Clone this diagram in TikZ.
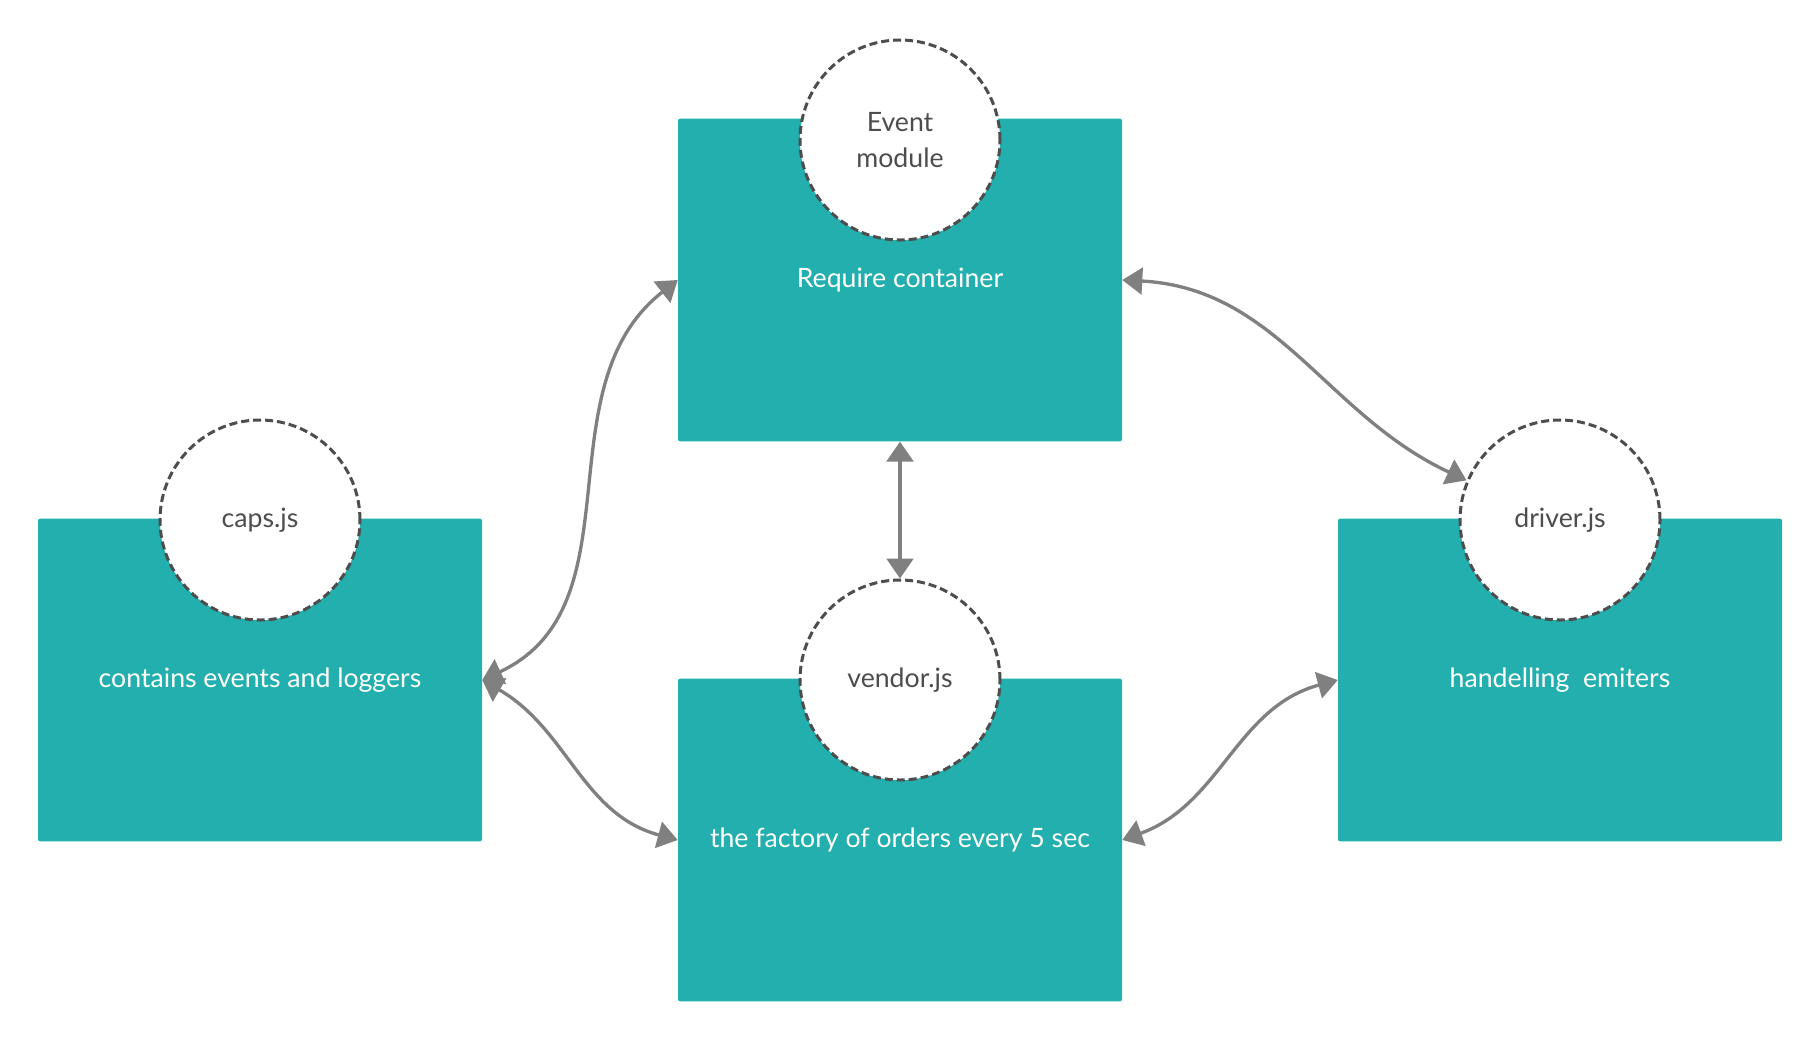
\documentclass[tikz,border=0pt]{standalone}
\usepackage{fontspec}
\setmainfont{Lato}
\usetikzlibrary{arrows.meta}
\definecolor{teal}{HTML}{23AFAE}
\definecolor{conngray}{HTML}{808080}
\definecolor{ringgray}{HTML}{4D4D4D}
\tikzset{
  box/.style={fill=teal, draw=none, rounded corners=1.5pt, minimum width=333pt, minimum height=242pt,
    text=white, font=\fontsize{20}{24}\selectfont, inner sep=0pt},
  ring/.style={circle, fill=white, draw=ringgray, line width=2.25pt, dash pattern=on 6pt off 3pt,
    minimum size=150pt, inner sep=0pt, text=ringgray, font=\fontsize{20}{27}\selectfont, align=center},
  conn/.style={draw=conngray, line width=2.5pt, {Triangle[length=15pt,width=20pt]}-{Triangle[length=15pt,width=20pt]}}
}
\begin{document}
\begin{tikzpicture}[x=0.75pt, y=-0.75pt]
\useasboundingbox (0,0) rectangle (1820,1040);
% boxes
\node[box] (topbox) at (900,280) {Require container};
\node[box] (capsbox) at (260,680) {contains events and loggers};
\node[box] (vendorbox) at (900,840) {the factory of orders every 5 sec};
\node[box] (driverbox) at (1560,680) {handelling\ \ emiters};
% rings
\node[ring] (eventc) at (900,140) {Event\\module};
\node[ring] (capsc) at (260,520) {caps.js};
\node[ring] (vendorc) at (900,680) {vendor.js};
\node[ring] (driverc) at (1560,520) {driver.js};
% connectors
\draw[conn] (capsbox.east) to[out=25,in=218] (topbox.west);
\draw[conn] (capsbox.east) to[out=-30,in=165] (vendorbox.west);
\draw[conn] (topbox.east) to[out=-3,in=155] (driverc.157);
\draw[conn] (vendorbox.east) to[out=20,in=195] (driverbox.west);
\draw[conn] (topbox.south) -- (vendorc.north);
\end{tikzpicture}
\end{document}
